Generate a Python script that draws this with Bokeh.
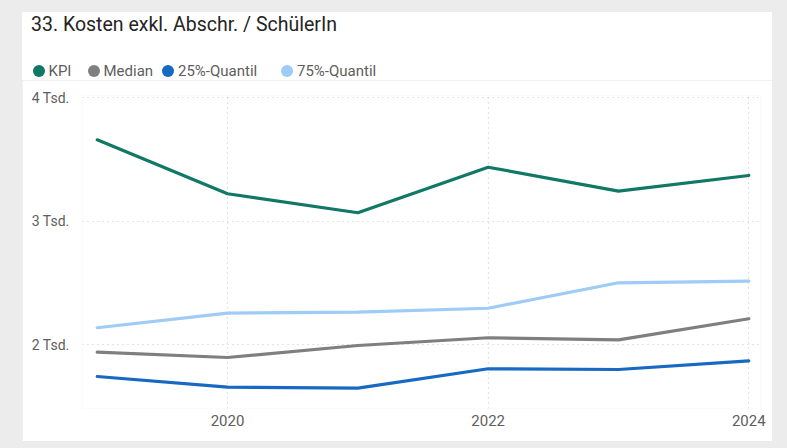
from bokeh.plotting import figure
from bokeh.models import Range1d, FixedTicker, ColumnDataSource, Div, Column, Row
from bokeh.embed import file_html
from bokeh.resources import INLINE

# ---- data ----
years = [2019, 2020, 2021, 2022, 2023, 2024]
kpi = [3660, 3223, 3069, 3438, 3244, 3371]
median = [1940, 1897, 1994, 2057, 2040, 2211]
q25 = [1743, 1657, 1649, 1806, 1800, 1870]
q75 = [2138, 2256, 2264, 2296, 2502, 2515]

series_names = ["KPI", "Median", "25%-Quantil", "75%-Quantil"]
series_colors = ["#117865", "#7f7f7f", "#1769C1", "#9FCBF7"]
x_ticks = [2020, 2022, 2024]
y_ticks = [2000, 3000, 4000]
y_tick_labels = ["2 Tsd.", "3 Tsd.", "4 Tsd."]
title_text = "33. Kosten exkl. Abschr. / SchülerIn"

FONT = "Roboto"
CARD_L, CARD_R = 22, 772   # white card edges (page px)
HEAD_H = 80
MAIN_H = 361
X0, X1 = 2018.887, 2024.09
Y0, Y1 = 1484, 4018.6

# ---- header: title + legend as HTML ----
legend_cx = [38.5, 93.5, 168, 287]   # layout positions of legend items (px)
parts = [
    f'<div style="position:relative;width:{CARD_R}px;height:{HEAD_H}px;background:white;overflow:hidden;">',
    '<div style="position:absolute;left:0;top:0;width:100%;height:12px;background:#ececec;"></div>',
    f'<div style="position:absolute;left:0;top:0;width:{CARD_L}px;height:{HEAD_H}px;background:#ececec;"></div>',
    f'<div style="position:absolute;left:31px;top:15.3px;font-family:{FONT};font-size:19.5px;'
    f'line-height:19.5px;color:#252423;white-space:nowrap;">{title_text}</div>',
]
for cx, name, color in zip(legend_cx, series_names, series_colors):
    parts.append(f'<div style="position:absolute;left:{cx - 6}px;top:65px;width:12px;height:12px;'
                 f'border-radius:50%;background:{color};"></div>')
    parts.append(f'<div style="position:absolute;left:{cx + 10}px;top:62px;height:18px;font-family:{FONT};'
                 f'font-size:15px;line-height:18px;color:#605E5C;white-space:nowrap;">{name}</div>')
parts.append('</div>')
header = Div(text="".join(parts), width=CARD_R, height=HEAD_H, margin=0)

left_strip = Div(text=f'<div style="width:{CARD_L}px;height:{MAIN_H}px;background:#ececec;"></div>',
                 width=CARD_L, height=MAIN_H, margin=0)

# ---- main chart ----
p = figure(width=CARD_R - CARD_L, height=MAIN_H, x_range=Range1d(X0, X1), y_range=Range1d(Y0, Y1),
           output_backend="svg", toolbar_location=None,
           min_border_left=60, min_border_right=12, min_border_top=15, min_border_bottom=33)
p.title_location = None
p.outline_line_color = None
p.background_fill_color = "white"
p.border_fill_color = "white"

for g in (p.xgrid[0], p.ygrid[0]):
    g.grid_line_color = "#c8c8c8"
    g.grid_line_dash = "1 4"
    g.grid_line_width = 1.2

src = ColumnDataSource(dict(year=years, kpi=kpi, median=median, q25=q25, q75=q75))
for col, color in zip(["kpi", "median", "q25", "q75"], series_colors):
    p.line("year", col, source=src, line_color=color, line_width=3.2, line_join="round", line_cap="round")

p.xaxis.ticker = FixedTicker(ticks=x_ticks)
p.yaxis.ticker = FixedTicker(ticks=y_ticks)
p.yaxis.major_label_overrides = {t: l for t, l in zip(y_ticks, y_tick_labels)}
for ax in (p.xaxis[0], p.yaxis[0]):
    ax.axis_line_color = None
    ax.major_tick_line_color = None
    ax.minor_tick_line_color = None
    ax.major_tick_out = 0
    ax.major_tick_in = 0
    ax.minor_tick_out = 0
    ax.minor_tick_in = 0
    ax.major_label_text_font = FONT
    ax.major_label_text_color = "#605E5C"
p.xaxis.major_label_text_font_size = "15px"
p.yaxis.major_label_text_font_size = "14px"
p.xaxis.major_label_standoff = 6
p.yaxis.major_label_standoff = 13

layout = Column(header, Row(left_strip, p, spacing=0), spacing=0)

html = file_html(layout, INLINE)
css = "<style>html, body { margin: 0; background: #ececec; }</style>"
html = html.replace("<head>", "<head>" + css, 1)
open("out.html", "w").write(html)
